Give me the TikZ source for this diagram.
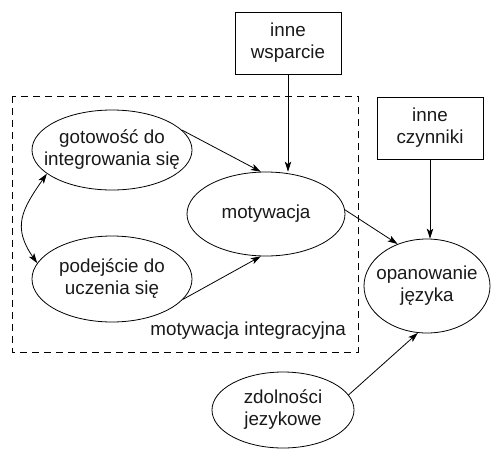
\documentclass[tikz,border=0pt]{standalone}
\usepackage{fontspec}
\setmainfont{Liberation Sans}
\usetikzlibrary{shapes.geometric,arrows.meta}
\begin{document}
\begin{tikzpicture}[x=1pt,y=-1pt,
  txt/.style={font=\fontsize{18.8}{22}\selectfont,text=black!90},
  every label/.style={align=center,txt},
  oval/.style={draw,ellipse,line width=0.8pt,inner sep=0pt},
  box/.style={draw,rectangle,line width=0.8pt,align=center,txt,
    minimum width=106pt,minimum height=62pt,inner sep=0pt},
  tip/.tip={Stealth[length=10pt,width=6.5pt,inset=2.5pt]},
  arr/.style={line width=0.8pt,-tip},
  dbl/.style={line width=0.8pt,tip-tip},
  frame/.style={draw,dash pattern=on 7pt off 5pt,line width=0.8pt}]
\useasboundingbox (0,0) rectangle (494,450);

% group frame and its caption
\draw[frame] (12,96) rectangle (358,352);
\node[txt,anchor=east,inner sep=0pt] (lab) at (346,331) {motywacja integracyjna};

% boxes
\node[box] (wsp) at (288,43) {inne\\wsparcie};
\node[box] (czy) at (430,128) {inne\\czynniki};

% ellipses
\node[oval,minimum width=160pt,minimum height=80pt,
  label=center:{gotowość do\\integrowania się}] (got) at (112,150) {};
\node[oval,minimum width=160pt,minimum height=86pt,
  label=center:{podejście do\\uczenia się}] (pod) at (112,279) {};
\node[oval,minimum width=158pt,minimum height=84pt,
  label=center:{motywacja}] (mot) at (266,214) {};
\node[oval,minimum width=126pt,minimum height=94pt,
  label=center:{opanowanie\\języka}] (opa) at (427,286) {};
\node[oval,minimum width=142pt,minimum height=76pt,
  label=center:{zdolności\\jezykowe}] (zdo) at (283,410) {};

% connectors
\draw[arr] (got.16) -- (mot.97);
\draw[arr] (pod.-16) -- (mot.263);
\draw[arr] (wsp.south) -- (wsp.south |- mot.north);
\draw[arr] (mot.3) -- (opa.125);
\draw[arr] (czy.south) -- (czy.south |- opa.north);
\draw[arr] (zdo.13) -- (opa.259);
\draw[dbl] (got.200) to[out=235,in=125,looseness=1.25] (pod.168);
\end{tikzpicture}
\end{document}
